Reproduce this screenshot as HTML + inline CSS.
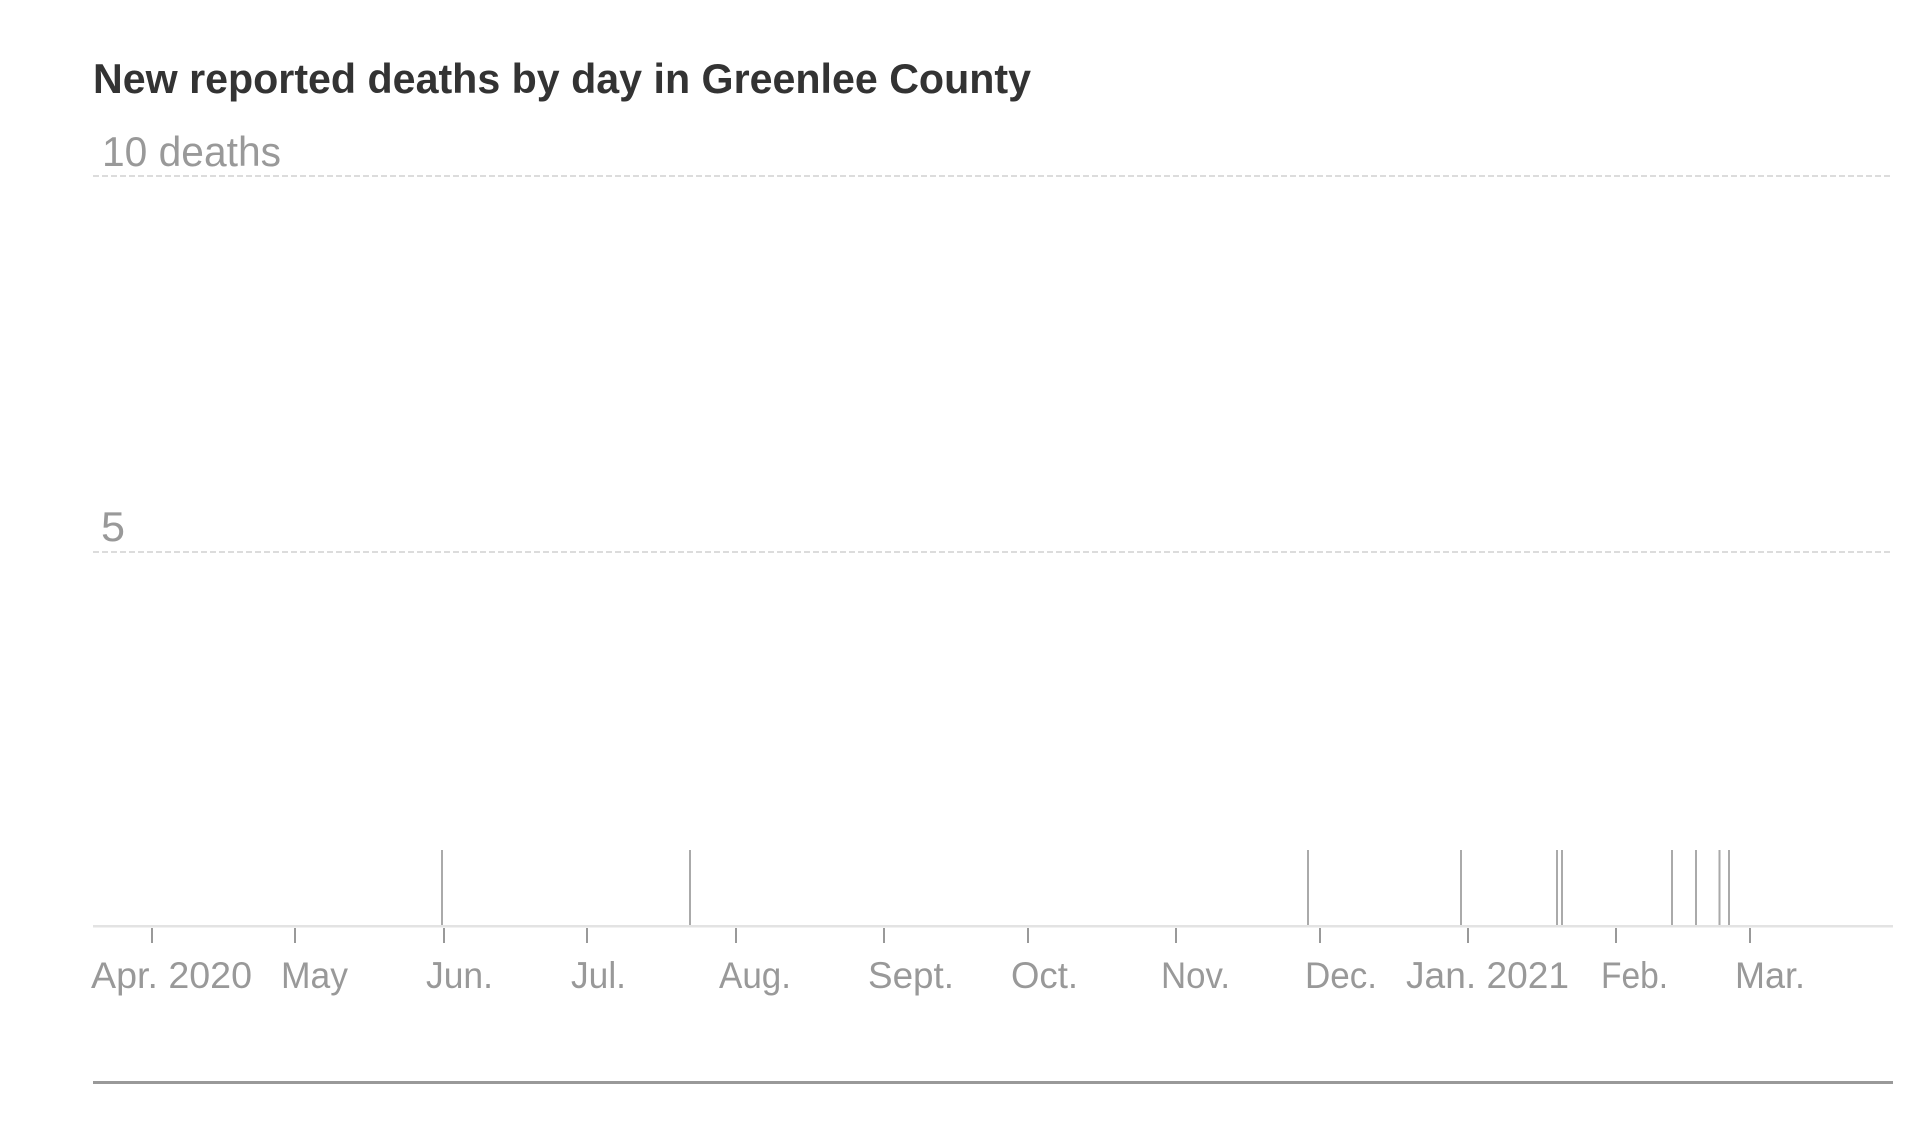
<!DOCTYPE html>
<html>
<head>
<meta charset="utf-8">
<style>
  html, body { margin: 0; padding: 0; background: #ffffff; }
  body { width: 1920px; height: 1125px; overflow: hidden; }
  svg { display: block; }
  text { font-family: "Liberation Sans", "DejaVu Sans", sans-serif; }
</style>
</head>
<body>
<svg width="1920" height="1125" viewBox="0 0 1920 1125" xmlns="http://www.w3.org/2000/svg">
  <rect x="0" y="0" width="1920" height="1125" fill="#ffffff"/>

  <!-- Title -->
  <text x="93" y="93" font-size="42" font-weight="bold" fill="#333333" textLength="938" lengthAdjust="spacingAndGlyphs">New reported deaths by day in Greenlee County</text>

  <!-- Gridlines -->
  <line x1="93" y1="176" x2="1893" y2="176" stroke="#dcdcdc" stroke-width="2" stroke-dasharray="6,3"/>
  <line x1="93" y1="552" x2="1893" y2="552" stroke="#dcdcdc" stroke-width="2" stroke-dasharray="6,3"/>

  <!-- Y labels -->
  <text x="102" y="166" font-size="42" fill="#999999" textLength="179" lengthAdjust="spacingAndGlyphs">10 deaths</text>
  <text x="101" y="541" font-size="42" fill="#999999" textLength="24" lengthAdjust="spacingAndGlyphs">5</text>

  <!-- Bars -->
  <g stroke="#aaaaaa" stroke-width="2">
    <line x1="442" y1="850" x2="442" y2="925"/>
    <line x1="690" y1="850" x2="690" y2="925"/>
    <line x1="1308" y1="850" x2="1308" y2="925"/>
    <line x1="1461" y1="850" x2="1461" y2="925"/>
    <line x1="1557" y1="850" x2="1557" y2="925"/>
    <line x1="1562" y1="850" x2="1562" y2="925"/>
    <line x1="1672" y1="850" x2="1672" y2="925"/>
    <line x1="1696" y1="850" x2="1696" y2="925"/>
    <line x1="1719.5" y1="850" x2="1719.5" y2="925"/>
    <line x1="1729" y1="850" x2="1729" y2="925"/>
  </g>

  <!-- Axis baseline -->
  <rect x="93" y="925" width="1800" height="2.5" fill="#e3e3e3"/>

  <!-- Ticks -->
  <g stroke="#999999" stroke-width="2">
    <line x1="152" y1="928" x2="152" y2="943"/>
    <line x1="295" y1="928" x2="295" y2="943"/>
    <line x1="444" y1="928" x2="444" y2="943"/>
    <line x1="587" y1="928" x2="587" y2="943"/>
    <line x1="736" y1="928" x2="736" y2="943"/>
    <line x1="884" y1="928" x2="884" y2="943"/>
    <line x1="1028" y1="928" x2="1028" y2="943"/>
    <line x1="1176" y1="928" x2="1176" y2="943"/>
    <line x1="1320" y1="928" x2="1320" y2="943"/>
    <line x1="1468" y1="928" x2="1468" y2="943"/>
    <line x1="1616" y1="928" x2="1616" y2="943"/>
    <line x1="1750" y1="928" x2="1750" y2="943"/>
  </g>

  <!-- X labels -->
  <g font-size="37" fill="#999999">
    <text x="91" y="988" textLength="161" lengthAdjust="spacingAndGlyphs">Apr. 2020</text>
    <text x="281" y="988" textLength="67" lengthAdjust="spacingAndGlyphs">May</text>
    <text x="426" y="988" textLength="67" lengthAdjust="spacingAndGlyphs">Jun.</text>
    <text x="571" y="988" textLength="55" lengthAdjust="spacingAndGlyphs">Jul.</text>
    <text x="719" y="988" textLength="72" lengthAdjust="spacingAndGlyphs">Aug.</text>
    <text x="868" y="988" textLength="86" lengthAdjust="spacingAndGlyphs">Sept.</text>
    <text x="1011" y="988" textLength="67" lengthAdjust="spacingAndGlyphs">Oct.</text>
    <text x="1161" y="988" textLength="69" lengthAdjust="spacingAndGlyphs">Nov.</text>
    <text x="1305" y="988" textLength="72" lengthAdjust="spacingAndGlyphs">Dec.</text>
    <text x="1406" y="988" textLength="163" lengthAdjust="spacingAndGlyphs">Jan. 2021</text>
    <text x="1601" y="988" textLength="67" lengthAdjust="spacingAndGlyphs">Feb.</text>
    <text x="1735" y="988" textLength="70" lengthAdjust="spacingAndGlyphs">Mar.</text>
  </g>

  <!-- Bottom rule -->
  <rect x="93" y="1081" width="1800" height="3" fill="#999999"/>
</svg>
</body>
</html>
